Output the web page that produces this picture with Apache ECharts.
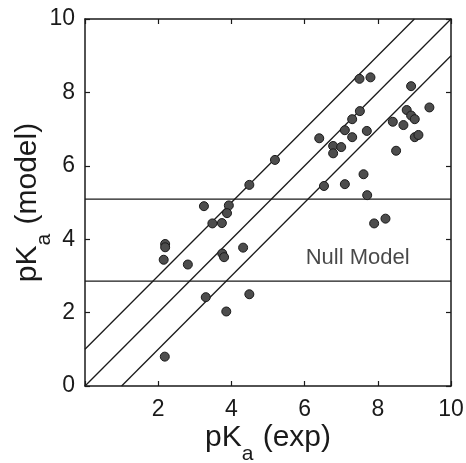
<!DOCTYPE html>
<html>
<head>
<meta charset="utf-8">
<script src="https://cdn.jsdelivr.net/npm/echarts@6/dist/echarts.min.js"></script>
<style>html,body{margin:0;padding:0;background:#fff;}#c{width:466px;height:463px;}</style>
</head>
<body>
<div id="c"></div>
<script>
// pKa (exp) values
const pkaExp = [7.50, 7.80, 8.91, 6.40, 7.51, 7.30, 7.10, 7.30, 7.70, 6.78, 7.00, 6.78,
  8.41, 8.70, 8.79, 8.91, 9.01, 9.41, 9.01, 9.11, 8.50, 6.53, 7.10, 7.61, 7.71, 7.90, 8.21,
  5.19, 4.49,
  3.25, 3.93, 3.88, 3.48, 3.74, 2.19, 2.19, 2.15, 2.81, 3.75, 3.80, 4.32, 3.30, 4.49, 3.86, 2.18];
// pKa (model) values
const pkaModel = [8.37, 8.41, 8.17, 6.75, 7.49, 7.27, 6.97, 6.78, 6.95, 6.54, 6.51, 6.34,
  7.20, 7.11, 7.52, 7.37, 7.27, 7.59, 6.78, 6.84, 6.41, 5.45, 5.50, 5.77, 5.20, 4.43, 4.56,
  6.16, 5.48,
  4.90, 4.92, 4.71, 4.43, 4.44, 3.87, 3.78, 3.44, 3.31, 3.61, 3.51, 3.77, 2.42, 2.50, 2.03, 0.80];
// diagonal reference lines y = x + offset
const diagOffsets = [1, 0, -1];
// null model band (horizontal lines)
const nullModelBounds = [5.09, 2.86];
const nullModelLabel = {text: 'Null Model', x: 7.45, y: 3.5};
const axisMin = 0, axisMax = 10, tickStep = 2;

const points = pkaExp.map((x, i) => [x, pkaModel[i]]);
const lineStyle = {color: '#1a1a1a', width: 1.3};
const series = [];
diagOffsets.forEach(o => {
  const x0 = Math.max(axisMin, axisMin - o), x1 = Math.min(axisMax, axisMax - o);
  series.push({type: 'line', data: [[x0, x0 + o], [x1, x1 + o]], symbol: 'none',
    lineStyle: lineStyle, silent: true, z: 2});
});
nullModelBounds.forEach(v => {
  series.push({type: 'line', data: [[axisMin, v], [axisMax, v]], symbol: 'none',
    lineStyle: lineStyle, silent: true, z: 2});
});
series.push({type: 'scatter', data: points, symbolSize: 9,
  itemStyle: {color: '#4d4d4d', borderColor: '#1a1a1a', borderWidth: 1, opacity: 1}, z: 3});
series.push({type: 'scatter', data: [[nullModelLabel.x, nullModelLabel.y]], symbolSize: 0,
  label: {show: true, position: 'inside', formatter: nullModelLabel.text,
    fontFamily: 'Liberation Sans', fontSize: 22, color: '#1a1a1a'}, silent: true, z: 4});

const axisCommon = {
  type: 'value', min: axisMin, max: axisMax, interval: tickStep,
  splitLine: {show: false},
  axisLine: {show: true, onZero: false, lineStyle: {color: '#1a1a1a', width: 1.5}},
  axisTick: {show: true, inside: true, length: 5, lineStyle: {color: '#1a1a1a', width: 1.2}},
};
const labelStyle = {fontFamily: 'Liberation Sans', fontSize: 23, color: '#1a1a1a'};
const titleRich = {
  m: {fontFamily: 'Liberation Sans', fontSize: 30, color: '#1a1a1a', lineHeight: 32, verticalAlign: 'top'},
  s: {fontFamily: 'Liberation Sans', fontSize: 21, color: '#1a1a1a', lineHeight: 21, padding: [21, 1, 0, 0], verticalAlign: 'top'}
};

const chart = echarts.init(document.getElementById('c'), null, {renderer: 'canvas'});
chart.setOption({
  animation: false,
  backgroundColor: '#fff',
  grid: {left: 85, right: 15, top: 19, bottom: 77, containLabel: false, outerBoundsMode: 'none'},
  xAxis: [
    Object.assign({}, axisCommon, {position: 'bottom',
      axisLabel: Object.assign({}, labelStyle, {margin: 12, formatter: v => v === 0 ? '' : String(v)}),
      name: '{m|pK}{s|a}{m| (exp)}', nameLocation: 'middle', nameGap: 37, nameMoveOverlap: false,
      nameTextStyle: {rich: titleRich}}),
    Object.assign({}, axisCommon, {position: 'top', axisLabel: {show: false}})
  ],
  yAxis: [
    Object.assign({}, axisCommon, {position: 'left',
      axisLabel: Object.assign({}, labelStyle, {margin: 10}),
      name: '{m|pK}{s|a}{m| (model)}', nameLocation: 'middle', nameGap: 40, nameMoveOverlap: false,
      nameTextStyle: {rich: titleRich}}),
    Object.assign({}, axisCommon, {position: 'right', axisLabel: {show: false}})
  ],
  series: series
});
</script>
</body>
</html>
